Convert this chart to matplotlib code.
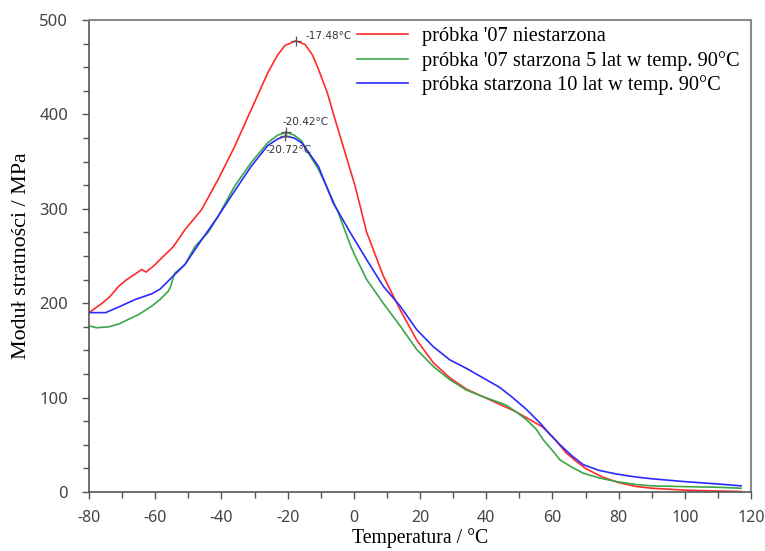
import matplotlib
matplotlib.use("Agg")
import matplotlib.pyplot as plt
from matplotlib.ticker import MultipleLocator

plt.rcParams["axes.unicode_minus"] = False

# ---- data ----
red_T = [-80, -76, -73.7, -71, -68.6, -66, -64.1, -62.8, -60.6, -58, -54.5, -51, -46, -41, -36, -31, -26, -23,
         -20.8, -17.5, -14.7, -12.5, -10.7, -8, -5.7, -3.2, 0.4, 3.9, 8.9, 14, 19, 24, 29, 34, 39, 44, 49, 53,
         57, 60.5, 64, 67, 70, 75, 80, 85, 90, 100, 110, 117]
red_E = [190, 200, 207, 218, 225, 231, 235.7, 233, 239, 248, 260, 278, 299, 331, 366, 405, 444, 463,
         473, 478, 474, 463, 448, 423, 395, 366, 324, 275, 229, 193, 161, 137, 121, 109, 101, 93, 85, 77,
         69, 57, 42, 33, 25, 16, 10, 6, 4, 2, 1, 0.5]

green_T = [-80, -77.7, -74, -71, -68.6, -65, -61, -58.5, -56, -55.3, -54.5, -54, -51, -48, -44, -41, -36, -31,
           -26, -23, -20.4, -18, -15.8, -13.2, -10.7, -8, -4.7, -1.1, 0.4, 3.9, 8.9, 14, 19, 24, 29, 34, 39,
           43, 46, 49, 52, 55, 57.3, 60, 62.3, 66, 69.3, 74, 79.4, 85, 90, 100, 110, 117]
green_E = [176, 174, 175, 178, 182, 188, 197, 204, 213, 218, 228, 232, 241, 260, 275, 292, 324, 349,
           370, 378, 381, 378, 372, 356, 342, 322, 296, 262, 250, 225, 200, 176, 151, 133, 119, 108, 101,
           96, 92, 85, 77, 67, 55, 44, 34, 26, 20, 15, 11, 8, 6.5, 5.7, 5, 4]

blue_T = [-80, -75, -71, -66, -61, -58.5, -54.5, -51, -46, -41, -36, -31, -26, -23, -20.7, -18, -15.8, -14.3,
          -10.7, -6.2, -1.1, 3.9, 8.9, 14, 19, 24, 29, 34, 39, 44, 48, 52, 56.3, 59, 62.3, 66, 69.3, 74,
          79.4, 85, 90, 100, 110, 117]
blue_E = [190, 190, 196, 204, 210, 215, 229, 241, 267, 292, 319, 345, 367, 374, 377, 375, 370, 363,
          345, 306, 275, 246, 218, 197, 172, 154, 140, 131, 121, 111, 100, 88, 73, 62, 50, 38, 29, 23,
          19, 16, 14, 11, 8.5, 6.5]

labels = ["próbka '07 niestarzona", "próbka '07 starzona 5 lat w temp. 90°C",
          "próbka starzona 10 lat w temp. 90°C"]
peaks = [(-17.48, 478, "-17.48°C"), (-20.42, 381, "-20.42°C"), (-20.72, 377, "-20.72°C")]

# ---- plot ----
fig = plt.figure(figsize=(7.65, 5.51), dpi=100)
ax = fig.add_axes([89/765, 1-492/551, (751-89)/765, (492-20)/551])

ax.plot(red_T, red_E, color="#ff2a2a", lw=1.2, label=labels[0])
ax.plot(green_T, green_E, color="#3aa648", lw=1.2, label=labels[1])
ax.plot(blue_T, blue_E, color="#2a2aff", lw=1.2, label=labels[2])

for (t, e, s) in peaks:
    ax.plot([t], [e], marker="+", color="#555555", ms=7, mew=0.9)
ax.text(-14.7, 483, peaks[0][2], fontsize=7.5, color="#333333", va="center", ha="left")
ax.text(-21.4, 392, peaks[1][2], fontsize=7.5, color="#333333", va="center", ha="left")
ax.text(-26.8, 362, peaks[2][2], fontsize=7.5, color="#333333", va="center", ha="left")

ax.set_xlim(-80, 120)
ax.set_ylim(0, 500)
ax.xaxis.set_major_locator(MultipleLocator(20))
ax.xaxis.set_minor_locator(MultipleLocator(10))
ax.yaxis.set_major_locator(MultipleLocator(100))
ax.yaxis.set_minor_locator(MultipleLocator(25))
ax.tick_params(which="both", direction="out", colors="#555555", labelsize=11.5)
ax.tick_params(which="major", length=5, width=1)
ax.tick_params(which="minor", length=4, width=1)
ax.tick_params(axis="x", pad=8)
ax.tick_params(axis="y", pad=10, labelsize=12)
for lbl in ax.get_xticklabels() + ax.get_yticklabels():
    lbl.set_color("#444444")
    lbl.set_family("Noto Sans")

for side in ["left", "bottom"]:
    ax.spines[side].set_color("#555555")
    ax.spines[side].set_linewidth(1.2)
for side in ["top", "right"]:
    ax.spines[side].set_color("#8a8a8a")
    ax.spines[side].set_linewidth(1.5)

ax.set_xlabel("Temperatura / °C", fontfamily="Liberation Serif", fontsize=14.2, labelpad=1.5)
ax.set_ylabel("Moduł stratności / MPa", fontfamily="Liberation Serif", fontsize=15.8, labelpad=6)

leg = ax.legend(loc="upper left", bbox_to_anchor=(0.405, 0.985), frameon=False,
                prop={"family": "Liberation Serif", "size": 14.7},
                handlelength=2.5, handletextpad=0.7, labelspacing=0.22, borderaxespad=0, borderpad=0)

fig.savefig("out.png", dpi=100)
